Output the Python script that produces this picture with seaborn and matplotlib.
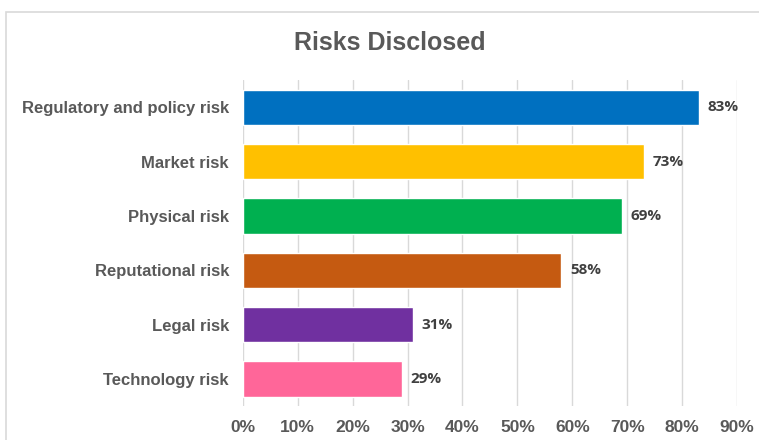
import matplotlib
matplotlib.use("Agg")
import matplotlib.pyplot as plt
import matplotlib.patches as mpatches
from matplotlib.ticker import PercentFormatter
import seaborn as sns
import pandas as pd

# Chart data
categories = ["Regulatory and policy risk", "Market risk", "Physical risk",
              "Reputational risk", "Legal risk", "Technology risk"]
shares = [0.83, 0.73, 0.69, 0.58, 0.31, 0.29]
bar_colors = ["#0070C0", "#FFC000", "#00B050", "#C55A11", "#7030A0", "#FF6699"]
title_text = "Risks Disclosed"

df = pd.DataFrame({"risk": categories, "share": shares})

sns.set_style("white")
plt.rcParams["font.family"] = ["Liberation Sans", "DejaVu Sans"]

fig = plt.figure(figsize=(7.59, 4.40), dpi=100)
ax = fig.add_axes([0.320, 0.077, 0.651, 0.741])

sns.barplot(data=df, x="share", y="risk", hue="risk", palette=bar_colors,
            legend=False, width=0.65, saturation=1, ax=ax)

ax.set_xlim(0, 0.9)
ax.set_xticks([i / 10 for i in range(10)])
ax.xaxis.set_major_formatter(PercentFormatter(1.0, decimals=0))
ax.grid(axis="x", color="#D9D9D9", linewidth=1)
ax.set_axisbelow(True)
for s in ax.spines.values():
    s.set_visible(False)
ax.set_xlabel("")
ax.set_ylabel("")
ax.tick_params(axis="both", length=0, colors="#595959")
ax.tick_params(axis="x", pad=10, labelsize=12.5)
ax.tick_params(axis="y", pad=10, labelsize=12)
for lab in ax.get_xticklabels() + ax.get_yticklabels():
    lab.set_fontweight("bold")

# value labels
for i, v in enumerate(shares):
    ax.text(v + 0.016, i, f"{v:.0%}", va="center", ha="left", fontsize=11,
            fontweight="bold", color="#404040",
            family=["Open Sans", "DejaVu Sans"])

fig.text(0.514, 0.903, title_text, ha="center", va="center", fontsize=18,
         fontweight="bold", color="#595959")

# chart border
fig.patches.append(mpatches.Rectangle((6 / 759, -0.1), 1.2, 1 - 12 / 440 + 0.1,
                                      transform=fig.transFigure, fill=False,
                                      edgecolor="#D9D9D9", linewidth=1.2))

fig.savefig("out.png", dpi=100)
